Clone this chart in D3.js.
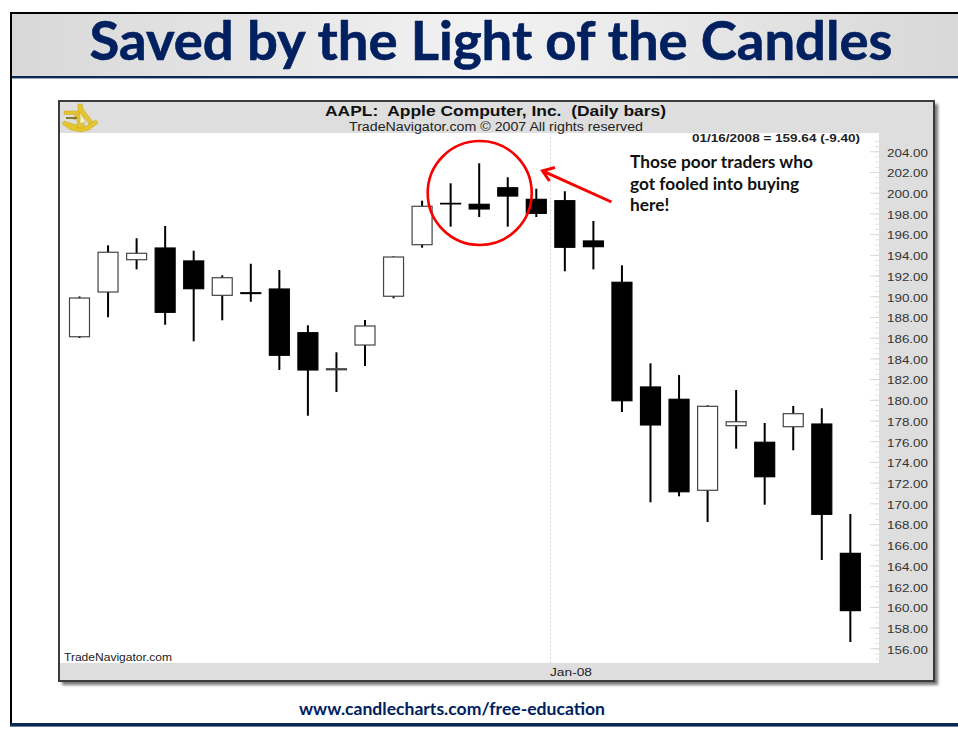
<!DOCTYPE html>
<html>
<head>
<meta charset="utf-8">
<script src="https://cdn.jsdelivr.net/npm/d3@7"></script>
<style>
  html, body { margin: 0; padding: 0; background: #fff; overflow: hidden; }
  svg { display: block; }
  .arial { font-family: "Liberation Sans", Arial, sans-serif; }
  .lato { font-family: Lato, "Open Sans", sans-serif; font-weight: 700; }
</style>
</head>
<body>
<div id="chart"></div>
<script>
// AAPL daily bars
const dates = ["2007-12-06", "2007-12-07", "2007-12-10", "2007-12-11", "2007-12-12", "2007-12-13", "2007-12-14",
  "2007-12-17", "2007-12-18", "2007-12-19", "2007-12-20", "2007-12-21", "2007-12-24", "2007-12-26",
  "2007-12-27", "2007-12-28", "2007-12-31", "2008-01-02", "2008-01-03", "2008-01-04", "2008-01-07",
  "2008-01-08", "2008-01-09", "2008-01-10", "2008-01-11", "2008-01-14", "2008-01-15", "2008-01-16"];
const opens = [186.09, 190.41, 193.53, 194.66, 193.41, 190.09, 190.34, 190.7, 186.48, 182.9, 185.29, 190.0, 194.98, 198.97,
  198.88, 200.48, 199.36, 199.23, 195.34, 191.35, 181.24, 180.05, 171.26, 177.5, 175.9, 177.4, 177.66, 165.17];
const highs = [189.98, 194.92, 195.6, 196.79, 194.4, 192.02, 193.14, 192.54, 187.2, 184.59, 187.71, 193.85, 199.23, 200.91,
  202.84, 201.49, 200.39, 200.14, 197.27, 192.99, 183.52, 182.39, 179.47, 180.95, 177.76, 179.4, 179.18, 168.97];
const lows = [185.97, 187.97, 192.6, 187.25, 185.65, 187.68, 189.47, 182.88, 178.46, 180.75, 183.26, 189.8, 194.69, 196.72,
  197.65, 196.72, 197.65, 192.41, 192.6, 178.82, 170.1, 170.68, 168.2, 175.28, 169.87, 175.12, 164.53, 156.61];
const closes = [189.83, 194.25, 194.15, 188.45, 190.73, 191.79, 190.26, 184.3, 182.88, 183.0, 187.13, 193.79, 198.69, 198.92,
  198.43, 199.68, 198.01, 194.73, 194.79, 179.91, 177.57, 171.12, 179.37, 177.88, 172.57, 178.66, 168.94, 159.64];
const yTicks = [204, 202, 200, 198, 196, 194, 192, 190, 188, 186, 184, 182, 180, 178, 176, 174, 172, 170, 168, 166, 164, 162, 160, 158, 156];
const noteLines = ["Those poor traders who", "got fooled into buying", "here!"];

const width = 958, height = 729;
const navy = "#002060";

const svg = d3.select("#chart").append("svg")
  .attr("width", width)
  .attr("height", height);

const defs = svg.append("defs");
const headGrad = defs.append("linearGradient").attr("id", "headGrad");
headGrad.append("stop").attr("offset", "0%").attr("stop-color", "#d8d8d8");
headGrad.append("stop").attr("offset", "50%").attr("stop-color", "#f2f2f2");
headGrad.append("stop").attr("offset", "100%").attr("stop-color", "#d8d8d8");
defs.append("filter").attr("id", "soft")
  .attr("x", "-5%").attr("y", "-5%").attr("width", "110%").attr("height", "110%")
  .append("feGaussianBlur").attr("stdDeviation", 1.6);

// slide frame and header band
svg.append("rect").attr("x", 12).attr("y", 14).attr("width", width - 12).attr("height", 62).attr("fill", "url(#headGrad)");
svg.append("rect").attr("x", 10).attr("y", 12).attr("width", width - 10).attr("height", 2).attr("fill", "#000");
svg.append("rect").attr("x", 10).attr("y", 12).attr("width", 2).attr("height", 712).attr("fill", "#000");
svg.append("rect").attr("x", 12).attr("y", 76).attr("width", width - 12).attr("height", 2.4).attr("fill", "#0b2a52");
svg.append("rect").attr("x", 10).attr("y", 723).attr("width", width - 10).attr("height", 3.6).attr("fill", "#0b2a52");

svg.append("text").attr("class", "lato")
  .attr("x", 491).attr("y", 60)
  .attr("text-anchor", "middle")
  .attr("font-size", 54)
  .attr("textLength", 803).attr("lengthAdjust", "spacingAndGlyphs")
  .attr("fill", navy).attr("stroke", navy).attr("stroke-width", 0.6)
  .text("Saved by the Light of the Candles");

svg.append("text").attr("class", "lato")
  .attr("x", 452).attr("y", 715)
  .attr("text-anchor", "middle")
  .attr("font-size", 16.5)
  .attr("textLength", 306).attr("lengthAdjust", "spacingAndGlyphs")
  .attr("fill", navy)
  .text("www.candlecharts.com/free-education");

// chart panel
const panel = { left: 59, right: 934, top: 101, bottom: 681 };
const plot = { left: 60, right: 879, top: 133, bottom: 663 };

svg.append("rect")
  .attr("x", panel.left + 3).attr("y", panel.top + 3)
  .attr("width", panel.right - panel.left + 1).attr("height", panel.bottom - panel.top + 1)
  .attr("fill", "#777").attr("filter", "url(#soft)");
svg.append("rect")
  .attr("x", panel.left).attr("y", panel.top)
  .attr("width", panel.right - panel.left).attr("height", panel.bottom - panel.top)
  .attr("fill", "#dedede").attr("stroke", "#3c3c3c").attr("stroke-width", 2);
svg.append("rect")
  .attr("x", plot.left).attr("y", plot.top)
  .attr("width", plot.right - plot.left).attr("height", plot.bottom - plot.top)
  .attr("fill", "#fff");

// scales
const x = d3.scaleBand().domain(dates).range([60.94, 868.9]).padding(0.3);
const y = d3.scaleLinear().domain([156, 204]).range([648.3, 151.3]);
const step = x.step();

// month separator
const janX = x("2008-01-02") + x.bandwidth() / 2 - step / 2;
svg.append("line")
  .attr("x1", janX).attr("x2", janX)
  .attr("y1", plot.top).attr("y2", plot.bottom)
  .attr("stroke", "#d9d9d9").attr("stroke-dasharray", "2,2");

// minor ticks
svg.append("g").attr("transform", `translate(${plot.right},0)`)
  .call(d3.axisLeft(y).tickValues(d3.range(156, 205, 0.5).concat([155.5, 155, 204.5, 205])).tickSize(4).tickFormat(""))
  .call(g => g.select(".domain").remove())
  .call(g => g.selectAll("line").attr("stroke", "#e4e4e4"));

// price axis
svg.append("g").attr("transform", `translate(${plot.right},0)`)
  .call(d3.axisLeft(y).tickValues(yTicks).tickSize(9).tickFormat(d3.format(".2f")))
  .call(g => g.select(".domain").remove())
  .call(g => g.selectAll("line").attr("stroke", "#d8d8d8"))
  .call(g => g.selectAll("text")
    .attr("class", "arial")
    .attr("x", 8)
    .attr("dy", "0.42em")
    .attr("text-anchor", "start")
    .attr("font-size", 11.5)
    .attr("textLength", 41).attr("lengthAdjust", "spacingAndGlyphs")
    .attr("fill", "#333"));

// candles
const candles = svg.append("g").selectAll("g")
  .data(dates)
  .join("g")
  .attr("transform", d => `translate(${x(d) + x.bandwidth() / 2},0)`);

candles.append("line")
  .attr("y1", (d, i) => y(highs[i]))
  .attr("y2", (d, i) => y(lows[i]))
  .attr("stroke", "#000")
  .attr("stroke-width", 2);

candles.append("rect")
  .attr("x", -x.bandwidth() / 2)
  .attr("width", x.bandwidth())
  .attr("y", (d, i) => y(Math.max(opens[i], closes[i])))
  .attr("height", (d, i) => Math.abs(y(opens[i]) - y(closes[i])))
  .attr("fill", (d, i) => closes[i] > opens[i] ? "#fff" : "#000")
  .attr("stroke", (d, i) => closes[i] > opens[i] ? "#444" : "#000")
  .attr("stroke-width", 1.2);

// panel texts
svg.append("text").attr("class", "arial")
  .attr("x", 495.5).attr("y", 116).attr("text-anchor", "middle")
  .attr("font-size", 14).attr("font-weight", 700).attr("fill", "#111")
  .attr("textLength", 341).attr("lengthAdjust", "spacingAndGlyphs")
  .attr("xml:space", "preserve")
  .text("AAPL:  Apple Computer, Inc.  (Daily bars)");
svg.append("text").attr("class", "arial")
  .attr("x", 496).attr("y", 131).attr("text-anchor", "middle")
  .attr("font-size", 12.5).attr("fill", "#222")
  .attr("textLength", 294).attr("lengthAdjust", "spacingAndGlyphs")
  .text("TradeNavigator.com © 2007 All rights reserved");
svg.append("text").attr("class", "arial")
  .attr("x", 692).attr("y", 142)
  .attr("font-size", 11).attr("font-weight", 700).attr("fill", "#222")
  .attr("textLength", 168).attr("lengthAdjust", "spacingAndGlyphs")
  .text("01/16/2008 = 159.64 (-9.40)");
svg.append("text").attr("class", "arial")
  .attr("x", 64).attr("y", 661)
  .attr("font-size", 10).attr("fill", "#222")
  .attr("textLength", 108).attr("lengthAdjust", "spacingAndGlyphs")
  .text("TradeNavigator.com");
svg.append("text").attr("class", "arial")
  .attr("x", 571).attr("y", 676).attr("text-anchor", "middle")
  .attr("font-size", 11.5).attr("fill", "#222")
  .attr("textLength", 42).attr("lengthAdjust", "spacingAndGlyphs")
  .text("Jan-08");

// sextant logo
const logo = svg.append("g").attr("transform", "translate(62,103)").attr("fill", "#e6c62e").attr("stroke", "#c2a320").attr("stroke-width", 0.5);
logo.append("path").attr("d", "M0 21 L2 18 L17 23 L24 23 L34 17 L36 20 L27 27 L19 29 L9 27 Z");
logo.append("path").attr("d", "M16 1 L20 1 L21 6 L31 19 L27 21 L22 13 L22 25 L15 25 L15 13 L13 17 L11 16 L16 7 Z");
logo.append("path").attr("d", "M18 9 L24 19 L18 21 Z").attr("fill", "#f6efc0");
logo.append("rect").attr("x", 2).attr("y", 8).attr("width", 15).attr("height", 3.4);
logo.append("rect").attr("x", 4).attr("y", 14).attr("width", 11).attr("height", 2).attr("fill", "#8a7a30").attr("stroke", "none");

// annotation
const note = svg.append("text").attr("class", "lato").attr("font-size", 17.3).attr("fill", "#111");
noteLines.forEach((line, i) => {
  note.append("tspan").attr("x", 630).attr("y", 168 + i * 21.6).text(line);
});

svg.append("ellipse")
  .attr("cx", 479.7).attr("cy", 193).attr("rx", 52).attr("ry", 52)
  .attr("fill", "none").attr("stroke", "#f80000").attr("stroke-width", 2.6);

svg.append("path")
  .attr("d", "M611.5 202 L542.5 170.8 M555 167.5 L542.5 170.8 L549.5 181")
  .attr("fill", "none").attr("stroke", "#f80000").attr("stroke-width", 3);
</script>
</body>
</html>
